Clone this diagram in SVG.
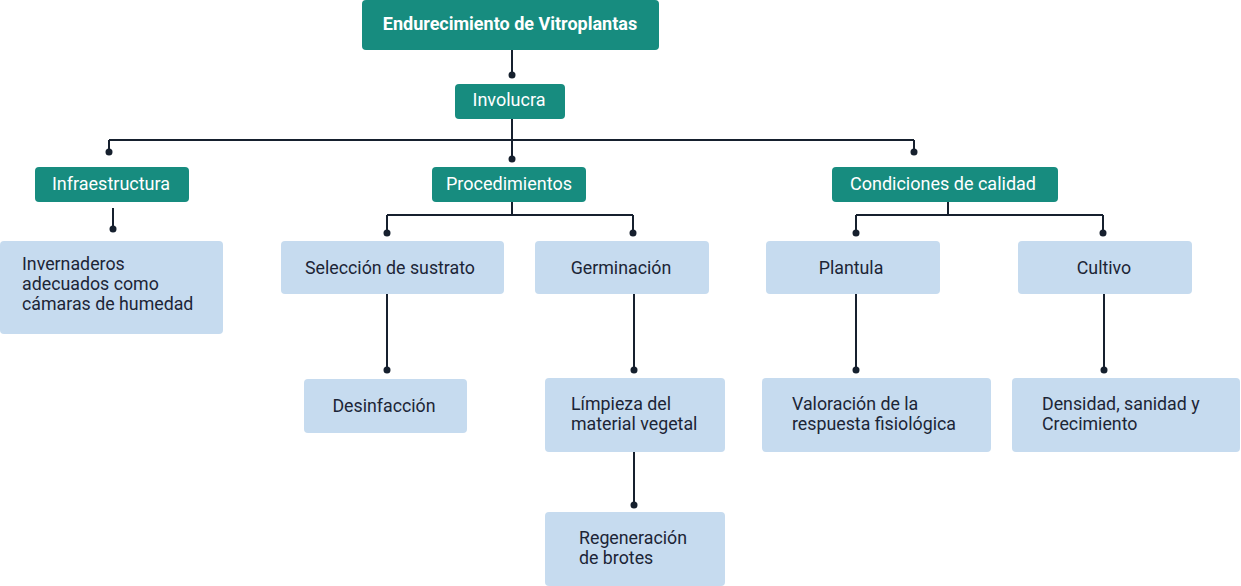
<svg xmlns="http://www.w3.org/2000/svg" width="1241" height="586" viewBox="0 0 1241 586">
<style>
.h{fill:#178c7f}
.b{fill:#c6dbef}
.ht{fill:#ffffff;font-family:Roboto,"Liberation Sans",sans-serif;font-size:18px}
.bt{fill:#1c2536;font-family:Roboto,"Liberation Sans",sans-serif;font-size:17.8px}
.c{fill:none;stroke:#16202e;stroke-width:2}
.d{fill:#16202e}
</style>
<rect width="1241" height="586" fill="#ffffff"/>
<g id="connectors">
<path class="c" d="M512 50V75M512 119V140M109 140H914M109 140V152M512 140V159M914 140V152"/>
<path class="c" d="M113 208V229"/>
<path class="c" d="M512 202V215M387 215H633M387 215V233M633 215V233"/>
<path class="c" d="M948 202V215M856 215H1103M856 215V233M1103 215V233"/>
<path class="c" d="M387 294V370M634 294V370M634 452V505M856 294V370M1104 294V370"/>
<circle class="d" cx="512" cy="75" r="3.5"/>
<circle class="d" cx="109" cy="152" r="3.5"/>
<circle class="d" cx="512" cy="159" r="3.5"/>
<circle class="d" cx="914" cy="152" r="3.5"/>
<circle class="d" cx="113" cy="229" r="3.5"/>
<circle class="d" cx="387" cy="233" r="3.5"/>
<circle class="d" cx="633" cy="233" r="3.5"/>
<circle class="d" cx="856" cy="233" r="3.5"/>
<circle class="d" cx="1103" cy="233" r="3.5"/>
<circle class="d" cx="387" cy="370" r="3.5"/>
<circle class="d" cx="634" cy="370" r="3.5"/>
<circle class="d" cx="634" cy="505" r="3.5"/>
<circle class="d" cx="856" cy="370" r="3.5"/>
<circle class="d" cx="1104" cy="370" r="3.5"/>
</g>
<g id="n-title"><rect class="h" x="362" y="0" width="297" height="50" rx="4"/><text class="ht" x="510" y="30" text-anchor="middle" font-weight="bold">Endurecimiento de Vitroplantas</text></g>
<g id="n-involucra"><rect class="h" x="455" y="84" width="110" height="35" rx="4"/><text class="ht" x="509" y="106" text-anchor="middle">Involucra</text></g>
<g id="n-infra"><rect class="h" x="35" y="167" width="154" height="35" rx="4"/><text class="ht" x="111" y="190" text-anchor="middle">Infraestructura</text></g>
<g id="n-proc"><rect class="h" x="432" y="167" width="154" height="35" rx="4"/><text class="ht" x="509" y="190" text-anchor="middle">Procedimientos</text></g>
<g id="n-cond"><rect class="h" x="832" y="167" width="226" height="35" rx="4"/><text class="ht" x="943" y="190" text-anchor="middle">Condiciones de calidad</text></g>
<g id="n-inver"><rect class="b" x="0" y="241" width="223" height="93" rx="4"/><text class="bt" x="22" y="270">Invernaderos</text><text class="bt" x="22" y="290">adecuados como</text><text class="bt" x="22" y="310">cámaras de humedad</text></g>
<g id="n-sel"><rect class="b" x="281" y="241" width="223" height="53" rx="4"/><text class="bt" x="390" y="274" text-anchor="middle">Selección de sustrato</text></g>
<g id="n-germ"><rect class="b" x="535" y="241" width="174" height="53" rx="4"/><text class="bt" x="621" y="274" text-anchor="middle">Germinación</text></g>
<g id="n-plant"><rect class="b" x="766" y="241" width="174" height="53" rx="4"/><text class="bt" x="851" y="274" text-anchor="middle">Plantula</text></g>
<g id="n-cult"><rect class="b" x="1018" y="241" width="174" height="53" rx="4"/><text class="bt" x="1104" y="274" text-anchor="middle">Cultivo</text></g>
<g id="n-desin"><rect class="b" x="304" y="379" width="163" height="54" rx="4"/><text class="bt" x="384" y="412" text-anchor="middle">Desinfacción</text></g>
<g id="n-limp"><rect class="b" x="545" y="378" width="180" height="74" rx="4"/><text class="bt" x="571" y="410">Límpieza del</text><text class="bt" x="571" y="430">material vegetal</text></g>
<g id="n-regen"><rect class="b" x="545" y="512" width="180" height="74" rx="4"/><text class="bt" x="579" y="544">Regeneración</text><text class="bt" x="579" y="564">de brotes</text></g>
<g id="n-valor"><rect class="b" x="762" y="378" width="229" height="74" rx="4"/><text class="bt" x="792" y="410">Valoración de la</text><text class="bt" x="792" y="430">respuesta fisiológica</text></g>
<g id="n-dens"><rect class="b" x="1012" y="378" width="228" height="74" rx="4"/><text class="bt" x="1042" y="410">Densidad, sanidad y</text><text class="bt" x="1042" y="430">Crecimiento</text></g>
</svg>
